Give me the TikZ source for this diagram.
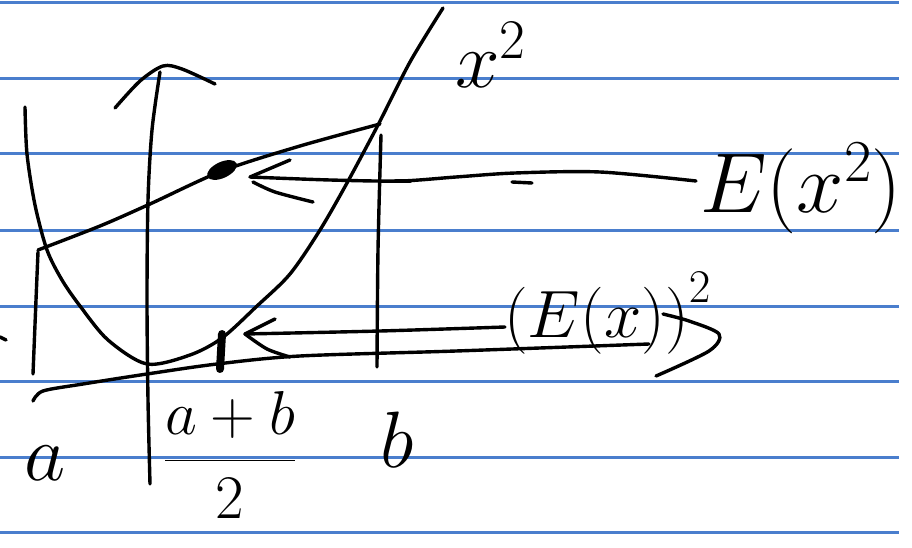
\RequirePackage{fix-cm}
\documentclass[tikz,border=0pt]{standalone}
\usetikzlibrary{shapes.geometric}
\definecolor{rulecol}{RGB}{74,126,205}
\tikzset{
  ink/.style={line width=3.4pt, line cap=round, line join=round, black},
  ruled/.style={line width=3pt, rulecol},
  lbl/.style={inner sep=0pt, anchor=base west},
  lblc/.style={inner sep=0pt, anchor=base}
}
\begin{document}
\begin{tikzpicture}[x=1pt,y=-1pt]
\useasboundingbox (0,0) rectangle (912,548);
\fill[white] (0,0) rectangle (912,548);
% ruled paper
\foreach \y in {3,79,154,230,306,381,457,532}
  \draw[ruled] (0,\y) -- (899,\y);

% vertical axis and its arrowhead arc
\draw[ink] plot[smooth] coordinates {(150,484) (148,400) (147,300) (148,200) (152,130) (160,72)};
\draw[ink] plot[smooth] coordinates {(115,108) (140,81) (163,66) (182,69) (215,84)};

% parabola x^2
\draw[ink] plot[smooth] coordinates {(25,107) (27,154) (35,205) (47,250) (62,280) (80,306) (108,340) (147,364) (190,355) (222,338) (257,306) (290,274) (320,230) (347,183) (378,125) (410,62) (443,8)};

% chord
\draw[ink] plot[smooth] coordinates {(38,250) (100,226) (150,204) (222,171) (300,146) (380,124)};
% tangent-like lower line
\draw[ink] plot[smooth] coordinates {(33,401) (43,391) (83,384) (147,374) (217,364) (300,356) (456,351) (649,344)};

% vertical markers at a and b
\draw[ink] plot[smooth] coordinates {(38,252) (36,300) (33,374)};
\draw[ink] (0,337) -- (6,340);
\draw[ink] plot[smooth] coordinates {(381,135) (378,250) (377,367)};

% points
\node[ellipse, fill=black, inner sep=0pt, minimum width=32pt, minimum height=16pt, rotate=25] (dot) at (222,170) {};
\coordinate (mid) at (222,334);
\draw[line width=8pt, line cap=round] (mid) -- (220,369);

% labels
\node[lbl] (Ex2) at (700,212) {\fontsize{85}{85}\selectfont $E(x^2)$};
\node[lbl] (EX2) at (504,337) {\fontsize{67}{67}\selectfont $(E(x))^{\raisebox{10pt}{$\scriptstyle 2$}}$};
\node[lbl] (xsq) at (455,88) {\fontsize{80}{80}\selectfont $x^2$};
\node[lblc] (la) at (45,480) {\fontsize{80}{80}\selectfont $a$};
\node[lblc] (lb) at (397,467) {\fontsize{80}{80}\selectfont $b$};
\node[lblc] (lab) at (230,476) {\fontsize{62}{62}\selectfont $\displaystyle\frac{a+b}{2}$};

% arrow to E(x^2)
\coordinate (tipA) at (250,177);
\draw[ink] plot[smooth] coordinates {(696,181) (600,172) (515,173) (456,177) (400,181) (330,180) (tipA)};
\draw[ink] (tipA) -- (290,160);
\draw[ink] plot[smooth] coordinates {(253,182) (275,192) (313,202)};
\draw[ink] (512,182) -- (532,183);
\draw[ink, line width=4.5pt] (396,181) -- (410,181);

% arrow to (E(x))^2
\coordinate (tipB) at (245,334);
\draw[ink] plot[smooth] coordinates {(505,327) (380,331) (tipB)};
\draw[ink] (tipB) -- (275,319);
\draw[ink] plot[smooth] coordinates {(tipB) (267,349) (290,357)};
% swoosh after the closing paren
\draw[ink] plot[smooth] coordinates {(663,314) (689,321) (719,334) (709,351) (656,376)};
\end{tikzpicture}
\end{document}
